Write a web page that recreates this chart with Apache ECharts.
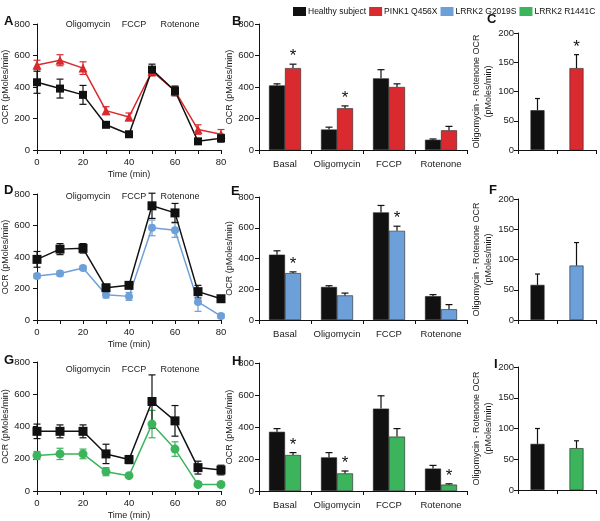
<!DOCTYPE html>
<html><head><meta charset="utf-8">
<script src="https://cdn.jsdelivr.net/npm/echarts@6/dist/echarts.min.js"></script>
<style>html,body{margin:0;padding:0;background:#fff}#c{width:600px;height:521px}</style>
</head><body><div id="c"></div><script>
// ---------- DATA ----------
const times = [0, 10, 20, 30, 40, 50, 60, 70, 80];
const timeTicks = [0, 20, 40, 60, 80];
const injections = ['Oligomycin', 'FCCP', 'Rotenone'];
const phases = ['Basal', 'Oligomycin', 'FCCP', 'Rotenone'];
const groupNames = ['Healthy subject', 'PINK1 Q456X', 'LRRK2 G2019S', 'LRRK2 R1441C'];

// Panel A (time course)
const A_healthy     = [430, 390, 350, 160, 100, 510, 375, 55, 75];
const A_healthy_err = [70, 60, 60, 15, 15, 35, 30, 15, 25];
const A_pink1       = [540, 570, 520, 250, 210, 500, 375, 130, 100];
const A_pink1_err   = [30, 35, 40, 25, 25, 30, 30, 30, 30];
// Panel D
const D_healthy     = [385, 450, 455, 205, 220, 725, 680, 180, 135];
const D_healthy_err = [50, 35, 30, 15, 15, 80, 60, 40, 10];
const D_g2019s      = [280, 295, 330, 160, 150, 585, 570, 115, 25];
const D_g2019s_err  = [15, 15, 12, 20, 25, 50, 45, 60, 15];
// Panel G
const G_healthy     = [370, 370, 370, 230, 195, 555, 435, 145, 130];
const G_healthy_err = [45, 40, 40, 60, 25, 165, 95, 40, 30];
const G_r1441c      = [220, 230, 230, 120, 95, 415, 260, 40, 40];
const G_r1441c_err  = [25, 35, 30, 25, 10, 85, 45, 10, 5];

// Panel B (phase bars)
const B_healthy     = [410, 130, 455, 65];
const B_healthy_err = [10, 15, 55, 5];
const B_pink1       = [520, 265, 400, 125];
const B_pink1_err   = [25, 15, 20, 25];
const B_stars       = [1, 1, 0, 0];
// Panel E
const E_healthy     = [425, 215, 700, 155];
const E_healthy_err = [25, 8, 45, 10];
const E_g2019s      = [305, 160, 580, 70];
const E_g2019s_err  = [8, 15, 30, 30];
const E_stars       = [1, 0, 1, 0];
// Panel H
const H_healthy     = [370, 210, 515, 140];
const H_healthy_err = [20, 30, 80, 20];
const H_r1441c      = [225, 110, 340, 40];
const H_r1441c_err  = [15, 15, 50, 5];
const H_stars       = [1, 1, 0, 1];

// Panels C, F, I (Oligomycin - Rotenone OCR): [healthy, patient]
const C_vals = [68, 140];  const C_err = [20, 23]; const C_stars = [0, 1];
const F_vals = [58, 90];   const F_err = [18, 38]; const F_stars = [0, 0];
const I_vals = [75, 68];   const I_err = [25, 12]; const I_stars = [0, 0];

// ---------- FONT (narrow if available) ----------
function hasFont(name) {
  const c = document.createElement('canvas').getContext('2d');
  c.font = '20px monospace'; const w0 = c.measureText('Healthy subject 0123').width;
  c.font = '20px "' + name + '", monospace'; const w1 = c.measureText('Healthy subject 0123').width;
  return Math.abs(w0 - w1) > 0.5;
}
const NARROW = hasFont('Liberation Sans Narrow');
const FONT = NARROW ? '"Liberation Sans Narrow", "Liberation Sans", Arial, sans-serif'
                    : '"Liberation Sans", Arial, Helvetica, sans-serif';
const FS = NARROW ? {tick: 10, cat: 10.5, name: 10, leg: 10.5, inj: 10.5}
                  : {tick: 9.5, cat: 9.5, name: 9, leg: 8.5, inj: 9};

// ---------- STYLE ----------
const COL = {'Healthy subject': '#111111', 'PINK1 Q456X': '#d92b2f', 'LRRK2 G2019S': '#6d9fd8', 'LRRK2 R1441C': '#3bb45c'};
const TXT = '#1a1a1a';

const grids = [
  {left: 37, top: 24, width: 184, height: 126},   // A
  {left: 259, top: 24, width: 208, height: 126},  // B
  {left: 518, top: 33, width: 78, height: 117},   // C
  {left: 37, top: 194, width: 184, height: 126},  // D
  {left: 259, top: 197, width: 208, height: 123}, // E
  {left: 518, top: 199, width: 78, height: 121},  // F
  {left: 37, top: 362, width: 184, height: 129},  // G
  {left: 259, top: 363, width: 208, height: 128}, // H
  {left: 518, top: 367, width: 78, height: 123}   // I
];

const axLine = {show: true, lineStyle: {color: '#111', width: 1}};
const axTick = {show: true, length: 4, lineStyle: {color: '#111', width: 1}};
const axLab = {color: TXT, fontSize: FS.tick, fontFamily: FONT};
const nameStyle = {color: TXT, fontSize: FS.name, fontFamily: FONT};

const xAxes = [], yAxes = [], series = [];

function lineAxes(gi) {
  xAxes.push({gridIndex: gi, type: 'value', min: 0, max: 80, interval: 10,
    axisLine: axLine, axisTick: axTick, splitLine: {show: false},
    axisLabel: Object.assign({}, axLab, {margin: 7, formatter: v => timeTicks.includes(v) ? String(v) : ''}),
    name: 'Time (min)', nameLocation: 'middle', nameGap: 20, nameTextStyle: nameStyle});
  yAxes.push({gridIndex: gi, type: 'value', min: 0, max: 800, interval: 200, offset: 3,
    axisLine: axLine, axisTick: axTick, splitLine: {show: false},
    axisLabel: Object.assign({}, axLab, {margin: 4}),
    name: 'OCR (pMoles/min)', nameLocation: 'middle', nameGap: 22, nameTextStyle: nameStyle});
}
function barAxes(gi) {
  xAxes.push({gridIndex: gi, type: 'category', data: phases,
    axisLine: axLine, axisTick: axTick, splitLine: {show: false},
    axisLabel: Object.assign({}, axLab, {fontSize: FS.cat, margin: 9, interval: 0})});
  yAxes.push({gridIndex: gi, type: 'value', min: 0, max: 800, interval: 200,
    axisLine: axLine, axisTick: axTick, splitLine: {show: false},
    axisLabel: Object.assign({}, axLab, {margin: 5}),
    name: 'OCR (pMoles/min)', nameLocation: 'middle', nameGap: 24, nameTextStyle: nameStyle});
}
function diffAxes(gi) {
  xAxes.push({gridIndex: gi, type: 'category', data: ['', ''],
    axisLine: axLine, axisTick: axTick, splitLine: {show: false}, axisLabel: {show: false}});
  yAxes.push({gridIndex: gi, type: 'value', min: 0, max: 200, interval: 50,
    axisLine: axLine, axisTick: axTick, splitLine: {show: false},
    axisLabel: Object.assign({}, axLab, {margin: 4}),
    name: 'Oligomycin - Rotenone OCR\n(pMoles/min)', nameLocation: 'middle', nameGap: 13,
    nameTextStyle: Object.assign({}, nameStyle, {lineHeight: 12})});
}

function addLine(gi, name, vals, errs, symbol, size) {
  const color = COL[name];
  series.push({type: 'custom', xAxisIndex: gi, yAxisIndex: gi, silent: true, z: 2,
    data: times.map((t, i) => [t, vals[i], errs[i]]),
    renderItem: (p, api) => {
      const x = api.value(0), y = api.value(1), e = api.value(2);
      const a = api.coord([x, y + e]), b = api.coord([x, y - e]);
      const hw = 3.5, st = {stroke: color, lineWidth: 1.2};
      return {type: 'group', children: [
        {type: 'line', shape: {x1: a[0], y1: a[1], x2: b[0], y2: b[1]}, style: st},
        {type: 'line', shape: {x1: a[0] - hw, y1: a[1], x2: a[0] + hw, y2: a[1]}, style: st},
        {type: 'line', shape: {x1: b[0] - hw, y1: b[1], x2: b[0] + hw, y2: b[1]}, style: st}]};
    }});
  series.push({type: 'line', name, xAxisIndex: gi, yAxisIndex: gi, z: 3,
    data: times.map((t, i) => [t, vals[i]]), symbol, symbolSize: size,
    lineStyle: {color, width: 1.5}, itemStyle: {color, borderWidth: 0}});
}

function errItem(api, off, hw) {
  const i = api.value(0), v = api.value(1), e = api.value(2), s = api.value(3);
  const b = api.coord([i, v]), t = api.coord([i, v + e]);
  const x = b[0] + off, st = {stroke: '#111', lineWidth: 1.2};
  const ch = [
    {type: 'line', shape: {x1: x, y1: b[1], x2: x, y2: t[1]}, style: st},
    {type: 'line', shape: {x1: x - hw, y1: t[1], x2: x + hw, y2: t[1]}, style: st}];
  if (s) ch.push({type: 'text', style: {text: '*', x: x, y: t[1] + 1, align: 'center', verticalAlign: 'bottom',
    fontSize: 17, fontFamily: '"Liberation Sans", Arial, sans-serif', fill: '#111'}});
  return {type: 'group', children: ch};
}

function addBars(gi, name, vals, errs, stars, off) {
  const color = COL[name];
  series.push({type: 'bar', name, xAxisIndex: gi, yAxisIndex: gi, data: vals, barWidth: 16, barGap: '0%',
    itemStyle: {color, borderColor: '#222', borderWidth: 0.6}, z: 2});
  series.push({type: 'custom', xAxisIndex: gi, yAxisIndex: gi, silent: true, z: 3,
    data: vals.map((v, i) => [i, v, errs[i], stars[i]]),
    renderItem: (p, api) => errItem(api, off, 3.5)});
}

function addDiff(gi, patient, vals, errs, stars) {
  const cols = [COL['Healthy subject'], COL[patient]];
  series.push({type: 'bar', xAxisIndex: gi, yAxisIndex: gi, barWidth: 14,
    data: vals.map((v, i) => ({value: v, itemStyle: {color: cols[i], borderColor: '#222', borderWidth: 0.6}})), z: 2});
  series.push({type: 'custom', xAxisIndex: gi, yAxisIndex: gi, silent: true, z: 3,
    data: vals.map((v, i) => [i, v, errs[i], stars[i]]),
    renderItem: (p, api) => errItem(api, 0, 2.5)});
}

lineAxes(0); barAxes(1); diffAxes(2);
lineAxes(3); barAxes(4); diffAxes(5);
lineAxes(6); barAxes(7); diffAxes(8);

addLine(0, 'PINK1 Q456X', A_pink1, A_pink1_err, 'triangle', 9);
addLine(0, 'Healthy subject', A_healthy, A_healthy_err, 'rect', 8);
addBars(1, 'Healthy subject', B_healthy, B_healthy_err, [0, 0, 0, 0], -8);
addBars(1, 'PINK1 Q456X', B_pink1, B_pink1_err, B_stars, 8);
addDiff(2, 'PINK1 Q456X', C_vals, C_err, C_stars);

addLine(3, 'LRRK2 G2019S', D_g2019s, D_g2019s_err, 'circle', 8);
addLine(3, 'Healthy subject', D_healthy, D_healthy_err, 'rect', 9);
addBars(4, 'Healthy subject', E_healthy, E_healthy_err, [0, 0, 0, 0], -8);
addBars(4, 'LRRK2 G2019S', E_g2019s, E_g2019s_err, E_stars, 8);
addDiff(5, 'LRRK2 G2019S', F_vals, F_err, F_stars);

addLine(6, 'LRRK2 R1441C', G_r1441c, G_r1441c_err, 'circle', 9);
addLine(6, 'Healthy subject', G_healthy, G_healthy_err, 'rect', 9);
addBars(7, 'Healthy subject', H_healthy, H_healthy_err, [0, 0, 0, 0], -8);
addBars(7, 'LRRK2 R1441C', H_r1441c, H_r1441c_err, H_stars, 8);
addDiff(8, 'LRRK2 R1441C', I_vals, I_err, I_stars);

// Annotations (panel letters, injection labels)
const letters = [['A', 4, 23], ['B', 232, 23], ['C', 487, 21], ['D', 4, 192], ['E', 231, 193], ['F', 489, 192],
                 ['G', 4, 362], ['H', 232, 363], ['I', 494, 366]];
const graphics = letters.map(([t, x, y]) => ({type: 'text', left: x, top: y - 8,
  style: {text: t, fontSize: 13, fontWeight: 'bold', fontFamily: '"Liberation Sans", Arial, sans-serif', fill: '#111'}}));
const injX = [88, 134, 180];
[25, 197, 370].forEach(y => injections.forEach((t, k) => graphics.push({type: 'text', x: injX[k], y: y,
  style: {text: t, fontSize: FS.inj, fontFamily: FONT, fill: TXT, align: 'center', verticalAlign: 'middle'}})));

const option = {
  animation: false,
  backgroundColor: '#fff',
  textStyle: {fontFamily: FONT},
  grid: grids,
  xAxis: xAxes,
  yAxis: yAxes,
  legend: {left: 293, top: 7, itemWidth: 13, itemHeight: 9, itemGap: 3, selectedMode: false, padding: 0,
    data: groupNames.map(n => ({name: n, icon: 'rect', itemStyle: {color: COL[n], borderWidth: 0}})),
    textStyle: {fontSize: FS.leg, fontFamily: FONT, color: '#111', padding: [0, 0, 0, -3]}},
  series: series,
  graphic: graphics
};
const chart = echarts.init(document.getElementById('c'), null, {renderer: 'canvas'});
chart.setOption(option);
</script></body></html>
